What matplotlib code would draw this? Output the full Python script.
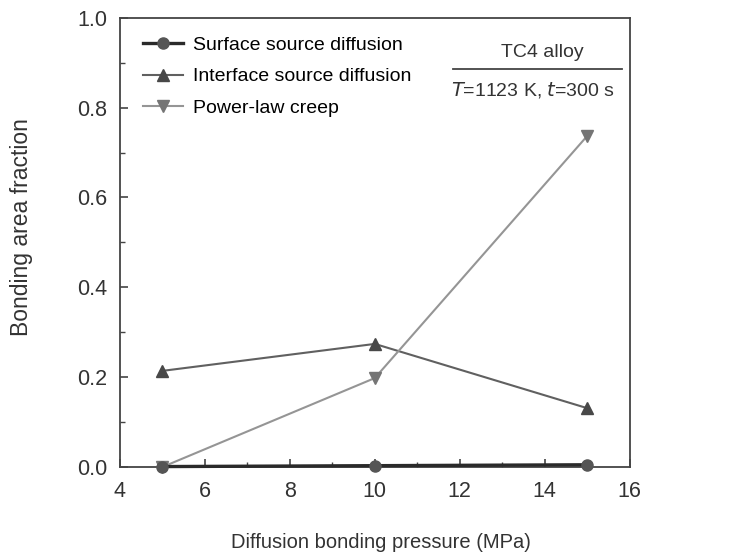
import matplotlib
matplotlib.use('Agg')
import matplotlib.pyplot as plt
from matplotlib.ticker import MultipleLocator, FormatStrFormatter

plt.rcParams['font.family'] = ['Liberation Sans', 'DejaVu Sans']

pressure = [5, 10, 15]
surface = [0.001, 0.003, 0.005]
interface = [0.214, 0.274, 0.131]
creep = [0.0, 0.198, 0.737]

fig = plt.figure(figsize=(7.4, 5.54), dpi=100)
ax = fig.add_axes([0.162, 0.157, 0.689, 0.811])

ax.plot(pressure, surface, color='#2a2a2a', marker='o', markersize=8,
        markerfacecolor='#555555', markeredgecolor='#555555', lw=2.4,
        label='Surface source diffusion', clip_on=False, zorder=3)
ax.plot(pressure, interface, color='#606060', marker='^', markersize=9,
        markerfacecolor='#484848', markeredgecolor='#484848', lw=1.5,
        label='Interface source diffusion', clip_on=False)
ax.plot(pressure, creep, color='#959595', marker='v', markersize=9,
        markerfacecolor='#757575', markeredgecolor='#757575', lw=1.5,
        label='Power-law creep', clip_on=False)

ax.set_xlim(4, 16)
ax.set_ylim(0, 1.0)
ax.xaxis.set_major_locator(MultipleLocator(2))
ax.xaxis.set_minor_locator(MultipleLocator(1))
ax.yaxis.set_major_locator(MultipleLocator(0.2))
ax.yaxis.set_minor_locator(MultipleLocator(0.1))
ax.yaxis.set_major_formatter(FormatStrFormatter('%.1f'))
ax.tick_params(which='both', direction='in', labelsize=15.5, color='#444444',
               labelcolor='#333333')
ax.tick_params(which='major', length=6, width=1.2)
ax.tick_params(which='minor', length=3.5, width=1.0)
ax.tick_params(axis='y', which='major', pad=9)
ax.tick_params(axis='x', which='major', pad=10)
for s in ax.spines.values():
    s.set_color('#444444')
    s.set_linewidth(1.3)

ax.set_xlabel('Diffusion bonding pressure (MPa)', fontsize=14.5, color='#333333', va='center')
ax.set_ylabel('Bonding area fraction', fontsize=16.5, color='#333333', va='center')
ax.xaxis.set_label_coords(0.512, -0.167)
ax.yaxis.set_label_coords(-0.192, 0.535)

ax.legend(loc='upper left', bbox_to_anchor=(0.045, 0.959), frameon=False,
          fontsize=14, handlelength=2.06, handletextpad=0.5, labelspacing=0.72,
          borderaxespad=0, borderpad=0)

ax.text(0.829, 0.922, 'TC4 alloy', transform=ax.transAxes, ha='center',
        va='center', fontsize=14, color='#333333')
ax.plot([0.653, 0.984], [0.886, 0.886], transform=ax.transAxes, color='#444444', lw=1.3)
ax.text(0.810, 0.840, r'$T$=1123 K, $t$=300 s', transform=ax.transAxes, ha='center',
        va='center', fontsize=14, color='#333333')

fig.savefig('out.png', dpi=100)
